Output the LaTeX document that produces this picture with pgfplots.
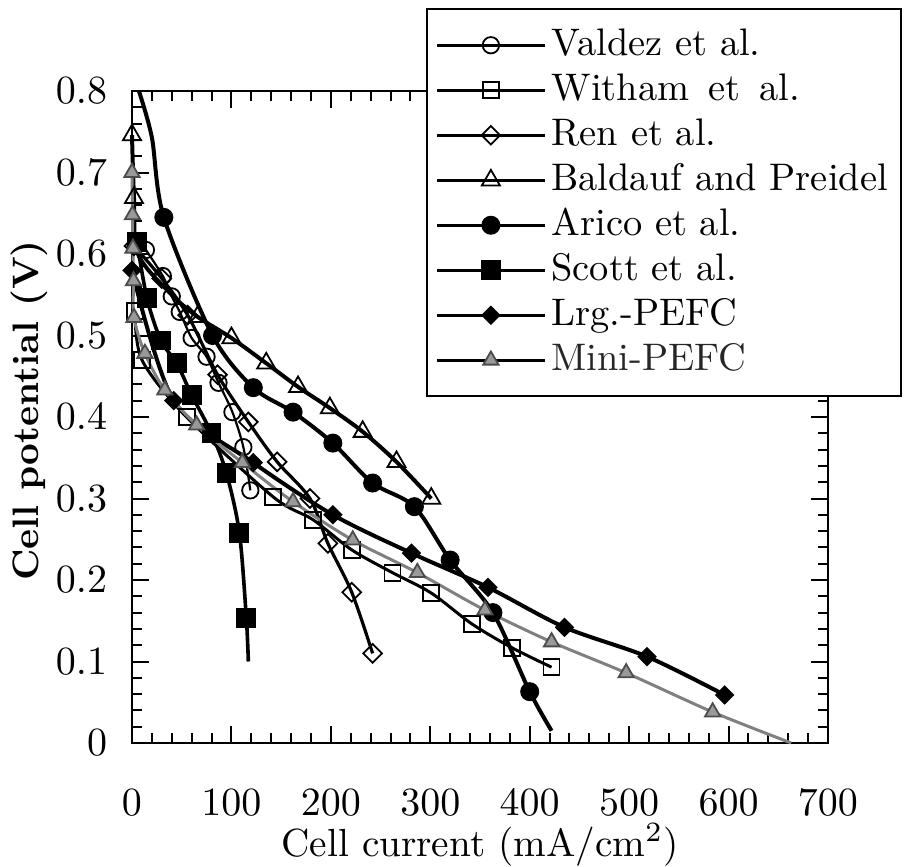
\documentclass[border=0pt]{standalone}
\usepackage{pgfplots}
\pgfplotsset{compat=1.18}
\begin{document}
\begin{tikzpicture}
\useasboundingbox (-33pt,-30.75pt) rectangle (194pt,185.75pt);
\begin{axis}[
  at={(0pt,0pt)}, anchor=south west,
  scale only axis, width=174pt, height=163pt,
  xmin=0, xmax=700, ymin=0, ymax=0.8,
  xtick={0,100,200,300,400,500,600,700},
  ytick={0,0.1,0.2,0.3,0.4,0.5,0.6,0.7,0.8},
  minor x tick num=4, minor y tick num=4,
  tick align=inside, tick pos=both,
  xticklabel pos=lower, yticklabel pos=left,
  major tick length=4.3pt, minor tick length=2.5pt,
  axis line style={line width=0.6pt},
  every tick/.style={black, line width=0.5pt},
  yticklabel style={/pgf/number format/.cd, fixed, precision=1, /tikz/.cd, xshift=-2.7pt},
  xticklabel style={yshift=-8.2pt},
  xlabel={Cell current (mA/cm$^2$)},
  xlabel style={at={(axis description cs:0.5,0)}, anchor=center, yshift=-25.5pt,
    font=\fontsize{9.8}{11}\selectfont},
  ylabel={Cell potential (V)},
  ylabel style={at={(axis description cs:-0.148,0.51)}, anchor=center,
    font=\fontsize{9.2}{11}\selectfont\bfseries},
  clip=false,
  legend cell align=left,
  legend style={at={(axis description cs:0.4224,1.1273)}, anchor=north west,
    draw=black, line width=0.6pt, fill=white,
    inner xsep=2pt, inner ysep=4.5pt, row sep=2.25pt,
    font=\fontsize{9.6}{11}\selectfont,
    nodes={inner xsep=1.25pt, inner ysep=0pt, text height=7pt, text depth=2pt}},
  legend image code/.code={
    \draw[#1, black, line width=0.85pt, mark indices={2}]
      plot coordinates {(0pt,0pt) (13.5pt,0pt) (27pt,0pt)};},
]
% Valdez et al.
\addplot[black, line width=0.55pt, smooth, mark=o, mark size=2.05pt,
  mark options={solid, line width=0.45pt}] coordinates {
  (14,0.605) (31,0.573) (40,0.548) (48,0.529) (60,0.497) (75,0.474)
  (87,0.442) (101,0.406) (112,0.363) (119,0.31)
};
\addlegendentry{Valdez et al.}
% Witham et al.
\addplot[black, line width=0.75pt, smooth, mark=square, mark size=2pt,
  mark options={solid, line width=0.45pt}] coordinates {
  (3,0.53) (10,0.47) (55,0.40) (142,0.302) (182,0.274) (221,0.237)
  (262,0.209) (301,0.184) (342,0.146) (382,0.117) (422,0.093)
};
\addlegendentry{Witham\enspace et\enspace al.}
% Ren et al.
\addplot[black, line width=0.8pt, smooth, mark=square, mark size=1.65pt,
  mark options={solid, rotate=45, line width=0.45pt}] coordinates {
  (2,0.61) (30,0.57) (56,0.525) (86,0.452) (117,0.394) (146,0.345)
  (179,0.30) (197,0.245) (221,0.185) (242,0.11)
};
\addlegendentry{Ren et al.}
% Baldauf and Preidel
\addplot[black, line width=1pt, smooth, mark=triangle, mark size=2.6pt,
  mark indices={1,2,5,6,7,8,9,10,11,12},
  mark options={solid, line width=0.45pt}] coordinates {
  (0,0.746) (2,0.669) (6,0.60) (40,0.55) (66,0.523) (100,0.497)
  (135,0.466) (167,0.437) (199,0.411) (232,0.382) (266,0.345) (301,0.30)
};
\addlegendentry{Baldauf and Preidel}
% Arico et al.
\addplot[black, line width=1pt, smooth, mark=*, mark size=2.15pt,
  mark indices={3,4,5,6,7,8,9,10,11,12},
  mark options={solid, line width=0.45pt}] coordinates {
  (7,0.80) (20,0.743) (32,0.645) (81,0.50) (122,0.436) (162,0.406)
  (202,0.368) (242,0.319) (284,0.29) (320,0.2245) (363,0.16) (400,0.063)
  (422,0.015)
};
\addlegendentry{Arico et al.}
% Scott et al.
\addplot[black, line width=0.9pt, smooth, mark=square*, mark size=2.25pt,
  mark indices={1,2,3,4,5,6,7,8,9},
  mark options={solid, line width=0.45pt}] coordinates {
  (5,0.615) (15,0.546) (29,0.494) (45,0.466) (60,0.427) (80,0.38)
  (95,0.331) (108,0.258) (115,0.153) (117,0.10)
};
\addlegendentry{Scott et al.}
% Lrg.-PEFC
\addplot[black, line width=1pt, smooth, mark=square*, mark size=1.5pt,
  mark options={solid, rotate=45, line width=0.45pt}] coordinates {
  (0,0.58) (42,0.42) (122,0.344) (202,0.28) (281,0.233) (358,0.191)
  (435,0.142) (518,0.106) (596,0.059)
};
\addlegendentry{Lrg.-PEFC}
% Mini-PEFC
\addplot[black!50, line width=0.75pt, smooth, mark=triangle*, mark size=2.2pt,
  mark indices={1,2,3,4,5,6,7,8,9,10,11,12,13,14,15,16},
  mark options={solid, fill=black!40, draw=black!70, line width=0.45pt}] coordinates {
  (0,0.70) (0.5,0.648) (1,0.607) (1.5,0.567) (2,0.522) (13,0.478)
  (33,0.433) (65,0.39) (111,0.344) (162,0.296) (222,0.249) (287,0.209)
  (355,0.163) (422,0.124) (497,0.086) (584,0.038) (663,0)
};
\addlegendentry{\textcolor{black!85}{Mini-PEFC}}
\end{axis}
\end{tikzpicture}
\end{document}
